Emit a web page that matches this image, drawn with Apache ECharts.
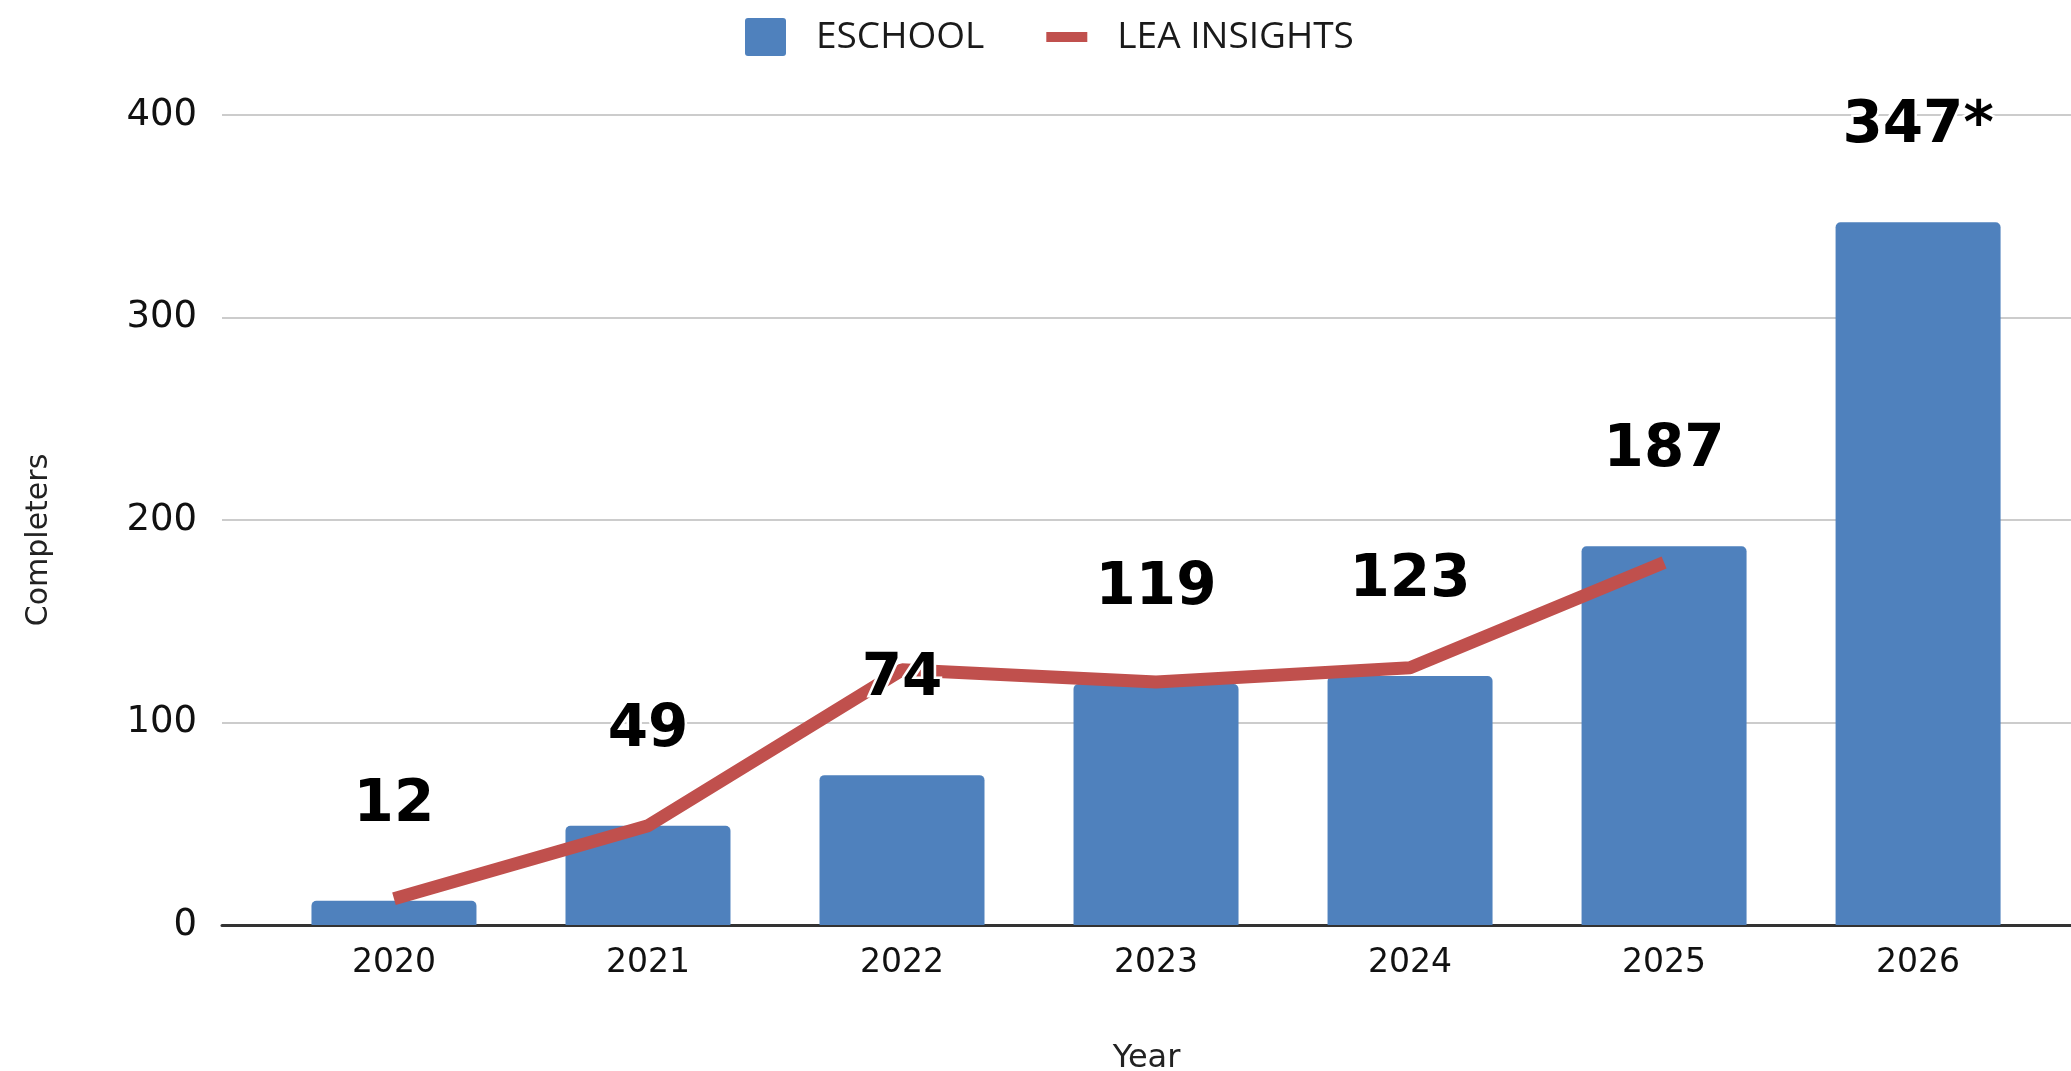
<!DOCTYPE html>
<html>
<head>
<meta charset="utf-8">
<title>Completers by Year</title>
<script src="https://cdn.jsdelivr.net/npm/echarts@6/dist/echarts.min.js"></script>
<style>
  html, body { margin: 0; padding: 0; background: #fff; }
  #chart { width: 2071px; height: 1071px; }
</style>
</head>
<body>
<div id="chart"></div>
<script>
  // data
  var years = ['2020', '2021', '2022', '2023', '2024', '2025', '2026'];
  var eschool = [12, 49, 74, 119, 123, 187, 347];
  var eschoolLabels = ['12', '49', '74', '119', '123', '187', '347*'];
  var leaInsights = [13, 49, 126, 120, 127, 179];
  var yTicks = [0, 100, 200, 300, 400];

  var blue = '#4f81bd';
  var red = '#c0504d';

  var barData = eschool.map(function (v, i) { return [i, v]; });
  var lineData = leaInsights.map(function (v, i) { return [i, v]; });

  var chart = echarts.init(document.getElementById('chart'));
  chart.setOption({
    animation: false,
    backgroundColor: '#fff',
    legend: {
      left: 740,
      top: 13,
      itemWidth: 41,
      itemHeight: 38,
      itemGap: 62,
      textStyle: {
        fontFamily: 'Open Sans',
        fontSize: 37,
        color: '#1a1a1a',
        padding: [0, 0, 0, 25]
      },
      data: [
        { name: 'ESCHOOL', icon: 'path://M3,0 H38 Q41,0 41,3 V35 Q41,38 38,38 H3 Q0,38 0,35 V3 Q0,0 3,0 Z' },
        { name: 'LEA INSIGHTS', icon: 'path://M0,0 H41 V10 H0 Z' }
      ]
    },
    // keep the plot box where it is, labels may sit close to the edge
    grid: { left: 222, right: 0, top: 115, bottom: 146, outerBoundsMode: 'none' },
    xAxis: {
      type: 'value',
      min: -0.677,
      max: 6.602,
      name: 'Year',
      nameLocation: 'middle',
      nameGap: 118,
      nameTextStyle: { fontFamily: 'DejaVu Sans', fontSize: 32, color: '#222' },
      axisLine: { show: true, lineStyle: { color: '#333', width: 3 } },
      axisTick: { show: false },
      splitLine: { show: false },
      axisLabel: {
        customValues: years.map(function (y, i) { return i; }),
        formatter: function (v) { return years[Math.round(v)]; },
        fontFamily: 'DejaVu Sans',
        fontSize: 33,
        color: '#111',
        margin: 22
      }
    },
    yAxis: {
      type: 'value',
      min: yTicks[0],
      max: yTicks[yTicks.length - 1],
      interval: 100,
      name: 'Completers',
      nameLocation: 'middle',
      nameGap: 168,
      nameTextStyle: {
        fontFamily: 'DejaVu Sans',
        fontSize: 30,
        color: '#222',
        padding: [0, 40, 0, 0]
      },
      axisLine: { show: false },
      axisTick: { show: false },
      splitLine: { lineStyle: { color: '#cccccc', width: 2 } },
      axisLabel: {
        fontFamily: 'DejaVu Sans',
        fontSize: 37,
        color: '#111',
        margin: 25,
        padding: [6, 0, 0, 0]
      }
    },
    series: [
      {
        name: 'ESCHOOL',
        type: 'bar',
        data: barData,
        barWidth: 165,
        z: 2,
        itemStyle: { color: blue, borderRadius: [5, 5, 0, 0] }
      },
      {
        name: 'LEA INSIGHTS',
        type: 'line',
        data: lineData,
        z: 3,
        symbol: 'none',
        itemStyle: { color: red },
        lineStyle: { color: red, width: 13 }
      },
      {
        // transparent copy of the bars, only to carry the value labels above the line
        name: 'labels',
        type: 'bar',
        data: barData,
        barWidth: 165,
        barGap: '-100%',
        z: 5,
        silent: true,
        itemStyle: { color: 'rgba(0,0,0,0)' },
        label: {
          show: true,
          position: 'top',
          distance: 66,
          fontFamily: 'DejaVu Sans',
          fontWeight: 'bold',
          fontSize: 58,
          color: '#000',
          textBorderColor: '#fff',
          textBorderWidth: 5,
          formatter: function (p) { return eschoolLabels[p.dataIndex]; }
        }
      }
    ]
  });
</script>
</body>
</html>
